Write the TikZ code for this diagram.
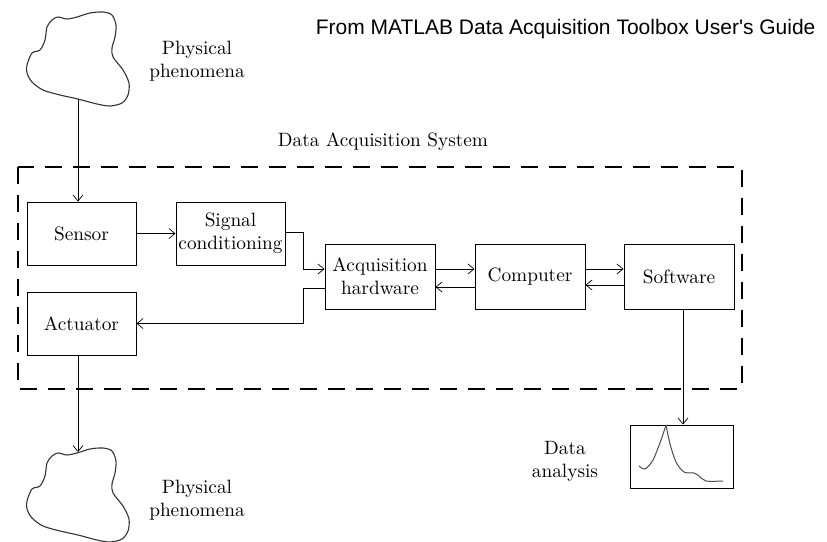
\documentclass[tikz,border=0pt]{standalone}
\usepackage{fontspec}
\newfontfamily\arialfont{Liberation Sans}
\newfontfamily\lmten{lmroman10-regular.otf}
\usetikzlibrary{arrows.meta,calc}
\begin{document}
\begin{tikzpicture}[x=1pt,y=-1pt,
  blk/.style={draw,line width=1pt,inner sep=0pt,align=center,font=\lmten\fontsize{19.3}{23}\selectfont},
  lbl/.style={align=center,font=\lmten\fontsize{19.3}{23}\selectfont},
  conn/.style={line width=1pt},
  arr/.style={conn,-{Straight Barb[length=6pt,width=10pt,line width=0.7pt]}},
  cloudline/.style={line width=1.1pt,draw=black!80}]
\useasboundingbox (0,0) rectangle (827,541);
% title
\node[font=\arialfont\fontsize{21}{24}\selectfont,anchor=east] (src) at (819,29) {From MATLAB Data Acquisition Toolbox User's Guide};
% clouds
\def\cloudpts{(27,65) (32,53) (40,50) (45,40) (47,27) (52,20) (58,17) (67,19) (77,17) (90,13) (103,12) (112,15) (116,25) (115,37) (112,48) (113,57) (123,70) (129,83) (128,95) (122,103) (110,106) (97,104) (78,99) (60,95) (43,90) (32,82) (27,73)}
\draw[cloudline] plot[smooth cycle,tension=0.5] coordinates {\cloudpts};
\begin{scope}[shift={(0,436)}]
\draw[cloudline] plot[smooth cycle,tension=0.5] coordinates {\cloudpts};
\end{scope}
\coordinate (c1) at (78,99);
\coordinate (c2) at (78,452);
\node[lbl] (pp1) at (197,61) {Physical\\phenomena};
\node[lbl] (pp2) at (197,500) {Physical\\phenomena};
% dashed system box
\node[lbl] (das) at (383,142) {Data Acquisition System};
\draw[line width=2.4pt,dash pattern=on 17pt off 11pt] (18,167) rectangle (742,389);
% blocks
\node[blk,minimum width=109pt,minimum height=63pt] (sensor) at (81.5,233.5) {Sensor};
\node[blk,minimum width=109pt,minimum height=63pt] (signal) at (230.5,233.5) {Signal\\conditioning};
\node[blk,minimum width=110pt,minimum height=65pt] (acq) at (380,276.5) {Acquisition\\hardware};
\node[blk,minimum width=110pt,minimum height=65pt] (comp) at (530,276.5) {Computer};
\node[blk,minimum width=110pt,minimum height=65pt] (soft) at (679,276.5) {Software};
\node[blk,minimum width=109pt,minimum height=63pt] (act) at (81.5,323.5) {Actuator};
\node[blk,minimum width=103pt,minimum height=63pt] (data) at (681.5,456.5) {};
\node[lbl] (dal) at (565,461) {Data\\analysis};
\draw[line width=1pt,draw=black!70] plot[smooth,tension=0.5] coordinates {(639,466) (645,469) (653,460) (661,440) (666,425)};
\draw[line width=1pt,draw=black!70] plot[smooth,tension=0.5] coordinates {(666,425) (670,444) (676,462) (684,472) (694,473) (699,476) (706,481) (723,481)};
% junction
\coordinate (j) at (303,0);
\coordinate (sw) at (683,0);
% connectors
\draw[arr] (c1) -- (sensor.north -| c1);
\draw[arr] (sensor.east) -- (signal.west);
\draw[arr] ([yshift=1.5pt]signal.east) -- ([yshift=1.5pt]signal.east -| j) |- ([yshift=7.5pt]acq.west);
\draw[arr] ([yshift=-11.5pt]acq.west) -- ([yshift=-11.5pt]acq.west -| j) |- (act.east);
\draw[arr] ([yshift=7.5pt]acq.east) -- ([yshift=7.5pt]comp.west);
\draw[arr] ([yshift=-10.5pt]comp.west) -- ([yshift=-10.5pt]acq.east);
\draw[arr] ([yshift=7.5pt]comp.east) -- ([yshift=7.5pt]soft.west);
\draw[arr] ([yshift=-8.5pt]soft.west) -- ([yshift=-8.5pt]comp.east);
\draw[arr] (act.south -| c1) -- (c2);
\draw[arr] (soft.south -| sw) -- (data.north -| sw);
\end{tikzpicture}
\end{document}
